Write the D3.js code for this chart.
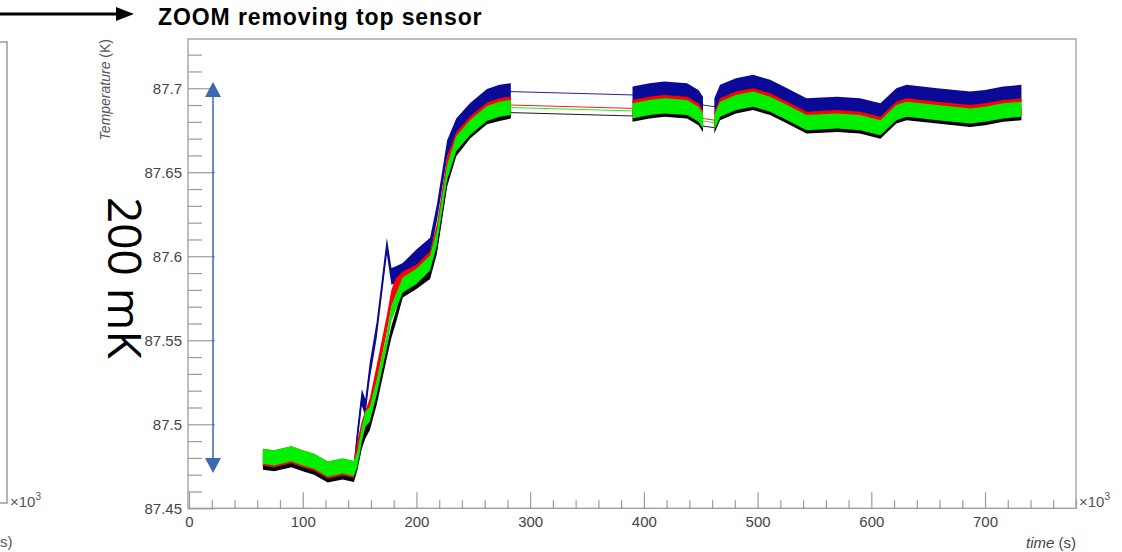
<!DOCTYPE html>
<html>
<head>
<meta charset="utf-8">
<script src="https://cdn.jsdelivr.net/npm/d3@7"></script>
<style>
  body { margin: 0; background: #fff; }
  svg { display: block; font-family: "Liberation Sans", Arial, sans-serif; }
</style>
</head>
<body>
<svg id="chart" width="1122" height="552"></svg>
<script>
/* data: time in 10^3 s, temperature in K (band centres) */
const times = [
  65, 75, 90, 100, 110, 122, 135, 145, 148, 152, 155, 159, 165, 174, 178, 182, 188, 200, 212, 218, 227, 235, 247, 262, 273, 283,
  390, 405, 418, 438, 448, 452,
  462, 467, 481, 496, 511, 526, 543, 570, 590, 608, 622, 631, 658, 687, 700, 716, 732
];
const blueT = [
  87.480, 87.479, 87.4815, 87.479, 87.477, 87.4723, 87.4742, 87.4727, 87.493, 87.516, 87.510, 87.532, 87.556, 87.606, 87.588, 87.589, 87.591, 87.599, 87.606, 87.626, 87.664, 87.677, 87.686, 87.6945, 87.697, 87.698,
  87.696, 87.698, 87.699, 87.698, 87.694, 87.690,
  87.689, 87.697, 87.701, 87.703, 87.700, 87.695, 87.689, 87.690, 87.689, 87.686, 87.695, 87.697, 87.695, 87.693, 87.694, 87.696, 87.697
];
const redT = [
  87.4805, 87.4795, 87.482, 87.4795, 87.4775, 87.4728, 87.4747, 87.4732, 87.485, 87.497, 87.503, 87.5105, 87.530, 87.560, 87.575, 87.582, 87.586, 87.590, 87.598, 87.614, 87.654, 87.669, 87.678, 87.6865, 87.689, 87.690,
  87.688, 87.690, 87.691, 87.690, 87.686, 87.682,
  87.681, 87.689, 87.693, 87.695, 87.692, 87.687, 87.681, 87.682, 87.681, 87.678, 87.687, 87.689, 87.687, 87.685, 87.686, 87.688, 87.689
];
const greenT = [
  87.481, 87.480, 87.4825, 87.480, 87.478, 87.4733, 87.4752, 87.4737, 87.479, 87.494, 87.503, 87.506, 87.522, 87.550, 87.566, 87.573, 87.583, 87.588, 87.596, 87.611, 87.650, 87.667, 87.6765, 87.685, 87.6875, 87.6885,
  87.6865, 87.6885, 87.6895, 87.6885, 87.6845, 87.6805,
  87.6795, 87.6875, 87.6915, 87.6935, 87.6905, 87.6855, 87.6795, 87.6805, 87.6795, 87.6765, 87.6855, 87.6875, 87.6855, 87.6835, 87.6845, 87.6865, 87.6875
];
const blackT = [
  87.4765, 87.4755, 87.478, 87.4755, 87.4735, 87.4688, 87.4707, 87.4692, 87.476, 87.489, 87.495, 87.500, 87.515, 87.543, 87.555, 87.564, 87.579, 87.584, 87.590, 87.605, 87.645, 87.663, 87.6735, 87.682, 87.684, 87.6855,
  87.6835, 87.6855, 87.6865, 87.6855, 87.6815, 87.6775,
  87.6765, 87.6845, 87.6885, 87.6905, 87.6875, 87.6825, 87.6765, 87.6775, 87.6765, 87.6735, 87.6825, 87.6845, 87.6825, 87.6805, 87.6815, 87.6835, 87.6845
];
// noise half-width of each sensor, K
const spread = { black: 0.0035, blue: 0.005, red: 0.005, green: 0.0045 };
// time ranges with continuous readout
const segments = [[65, 283], [390, 452], [462, 732]];

const xMajor = [0, 100, 200, 300, 400, 500, 600, 700];
const yMajor = [87.45, 87.5, 87.55, 87.6, 87.65, 87.7];
const yLabels = ["87.45", "87.5", "87.55", "87.6", "87.65", "87.7"];

const series = [
  { name: "black", color: "#000000", values: blackT },
  { name: "blue", color: "#0a0a96", values: blueT },
  { name: "red", color: "#ff0000", values: redT },
  { name: "green", color: "#00f000", values: greenT }
];

let svg = d3.select("#chart");
let x = d3.scaleLinear().domain([0, 780]).range([189, 1076]);
let y = d3.scaleLinear().domain([87.45, 87.7293]).range([508.3, 39]);
let plotBottom = y(87.45), plotTop = y.range()[1];

// partial frame of the previous plot on the left
svg.append("path")
  .attr("d", "M0,42H7V503H0")
  .attr("fill", "none").attr("stroke", "#9a9a9a").attr("stroke-width", 1.5);
let sup = svg.append("text").attr("x", 10).attr("y", 507)
  .attr("font-size", 15).attr("fill", "#555");
sup.append("tspan").text("\u00d710");
sup.append("tspan").attr("dy", -7).attr("font-size", 10).text("3");
svg.append("text").attr("x", 0).attr("y", 547)
  .attr("font-size", 15).attr("fill", "#555").text("s)");

// title with arrow
svg.append("line").attr("x1", 0).attr("x2", 118).attr("y1", 14).attr("y2", 14)
  .attr("stroke", "#000").attr("stroke-width", 3);
svg.append("path").attr("d", "M116,7L134,14L116,21Z").attr("fill", "#000");
svg.append("text").attr("x", 158).attr("y", 25)
  .attr("font-size", 23).attr("font-weight", "bold").attr("fill", "#000")
  .attr("letter-spacing", 0.9)
  .text("ZOOM removing top sensor");

// axes
let xMinor = d3.range(0, 781, 20).filter(d => d % 100 !== 0);
let yMinor = d3.range(0, 28).map(i => 87.45 + i * 0.01).filter((d, i) => i % 5 !== 0);

let gx = svg.append("g").attr("transform", `translate(0,${plotBottom})`);
gx.append("g").call(d3.axisBottom(x).tickValues(xMinor).tickSize(-8).tickFormat(""));
gx.append("g").call(d3.axisBottom(x).tickValues(xMajor).tickSize(-16).tickPadding(8).tickFormat(d3.format("d")));

let gy = svg.append("g").attr("transform", `translate(${x(0) - 1},0)`);
gy.append("g").call(d3.axisLeft(y).tickValues(yMinor).tickSize(-14).tickFormat(""));
gy.append("g").call(d3.axisLeft(y).tickValues(yMajor).tickSize(-27).tickPadding(6)
  .tickFormat((d, i) => yLabels[i]));

svg.selectAll(".domain").remove();
svg.selectAll(".tick line").attr("stroke", "#9a9a9a").attr("stroke-width", 1.2);
svg.selectAll(".tick text").attr("font-size", 15).attr("fill", "#444")
  .attr("font-family", "Liberation Sans, Arial, sans-serif");

// frame
svg.append("rect")
  .attr("x", x(0) - 1).attr("y", plotTop)
  .attr("width", x(780) - x(0) + 1).attr("height", plotBottom - plotTop)
  .attr("fill", "none").attr("stroke", "#9a9a9a").attr("stroke-width", 1.3);

// thin connecting lines through every point
let line = d3.line().x((d, i) => x(times[i])).y(d => y(d));
series.forEach(s => {
  svg.append("path")
    .attr("d", line(s.values))
    .attr("fill", "none").attr("stroke", s.color).attr("stroke-width", 0.9);
});

// noisy bands over the continuous parts
series.forEach(s => {
  let h = spread[s.name];
  let area = d3.area()
    .x(d => x(d.t))
    .y0(d => y(d.v - h))
    .y1(d => y(d.v + h));
  segments.forEach(seg => {
    let pts = times.map((t, i) => ({ t, v: s.values[i] }))
      .filter(d => d.t >= seg[0] && d.t <= seg[1]);
    svg.append("path")
      .attr("d", area(pts))
      .attr("fill", s.color);
  });
});

// 200 mK annotation
svg.append("line").attr("x1", 213).attr("x2", 213).attr("y1", 95).attr("y2", 460)
  .attr("stroke", "#3a69ae").attr("stroke-width", 1.5);
svg.append("path").attr("d", "M213,82L205,97L221,97Z").attr("fill", "#3a69ae");
svg.append("path").attr("d", "M213,473L205,458L221,458Z").attr("fill", "#3a69ae");
svg.append("text")
  .attr("transform", "translate(108,197) rotate(90)")
  .attr("font-family", "Open Sans, Noto Sans, sans-serif")
  .attr("font-size", 46).attr("fill", "#000")
  .text("200 mK");

// axis titles
let yt = svg.append("text")
  .attr("transform", "translate(110,39) rotate(-90)")
  .attr("text-anchor", "end").attr("font-size", 14).attr("fill", "#555");
yt.append("tspan").attr("font-style", "italic").text("Temperature");
yt.append("tspan").text(" (K)");

let xt = svg.append("text").attr("x", 1076).attr("y", 548)
  .attr("text-anchor", "end").attr("font-size", 15).attr("fill", "#444");
xt.append("tspan").attr("font-style", "italic").text("time");
xt.append("tspan").text(" (s)");

let xs = svg.append("text").attr("x", 1079).attr("y", 507)
  .attr("font-size", 15).attr("fill", "#555");
xs.append("tspan").text("\u00d710");
xs.append("tspan").attr("dy", -7).attr("font-size", 10).text("3");
</script>
</body>
</html>
